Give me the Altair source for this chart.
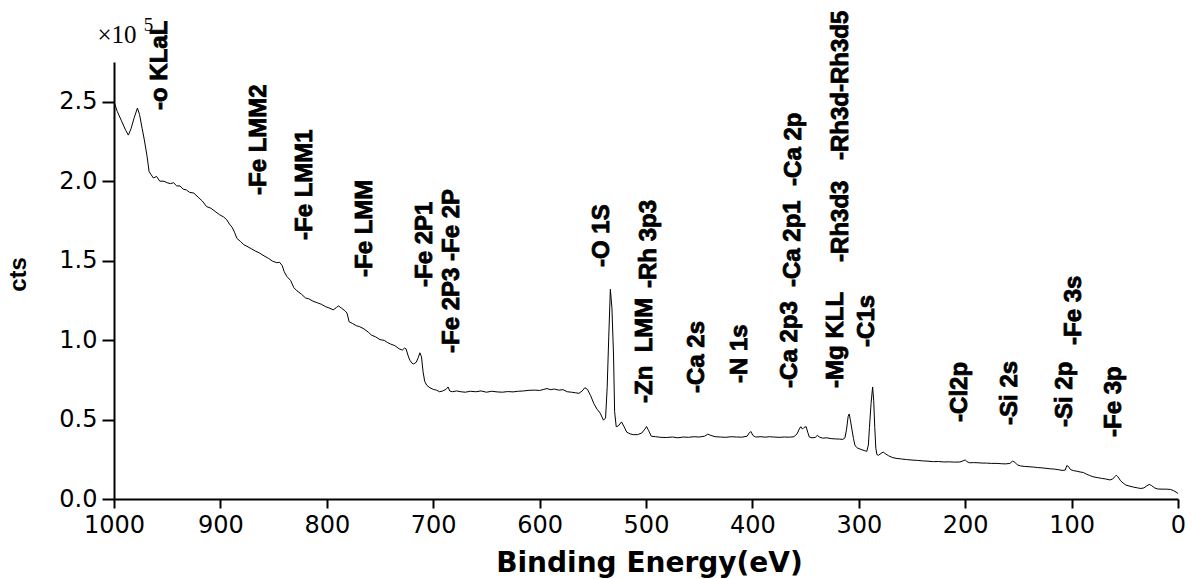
import altair as alt
import pandas as pd

# XPS survey spectrum: binding energy (eV) and counts (x 1e5)
energy = [
    1000, 997, 993, 989, 986.5, 984, 981, 978, 976, 973.5, 971.5, 969, 967, 965, 963, 960, 957, 953, 950,
    947, 944, 941, 938, 935, 932, 929, 925, 921, 917, 913, 909, 905, 901, 897, 894, 891.5, 889, 886.5,
    884.5, 881, 878, 875, 871, 867, 863, 859, 855, 851, 847, 844.5, 842, 840, 837.5, 834, 831, 828, 824,
    820, 817, 813, 809, 805, 801, 797, 794, 791, 789, 786, 783, 781, 779, 776, 772, 769, 765, 761, 758,
    754, 750, 746, 743, 740, 736, 732, 729, 727, 725.5, 723.5, 722, 720, 718.5, 716, 714, 712.5, 711,
    709.5, 708, 706, 703, 700, 697, 694, 691, 688, 686, 684.5, 682, 678, 674, 670, 665, 660, 655, 650,
    645, 640, 635, 630, 625, 620, 615, 610, 605, 600, 596, 593, 590, 586, 582, 578, 574, 570, 566, 563,
    560, 557.5, 555, 552, 549, 546, 543, 540, 538, 536.5, 535, 533.5, 532, 530.5, 529.5, 528, 526, 523,
    521, 518, 515, 512, 508, 504, 501, 499.5, 497.5, 495, 491, 486, 481, 475, 470, 465, 460, 455, 450,
    445, 442, 439, 435, 430, 425, 420, 415, 410, 405, 403, 401.5, 399.5, 397, 392, 388, 384, 380, 375,
    370, 365, 361, 358, 356, 354.5, 353, 351.5, 349.5, 348, 346.5, 344, 341, 339, 337, 334, 330, 326,
    322, 318, 315, 313, 311.5, 310, 309, 308, 306.5, 305, 303.5, 301, 298, 295, 292.5, 291, 290, 288.5,
    287, 286, 285, 284, 283, 281.5, 279, 277, 275, 272, 268, 264, 260, 255, 250, 245, 240, 235, 230,
    225, 220, 215, 210, 205, 202, 200, 198.5, 196, 192, 188, 184, 180, 175, 170, 166, 162, 158, 155.5,
    153.5, 151, 148, 144, 140, 136, 132, 128, 124, 120, 116, 112, 109, 106, 104.5, 103, 101, 98, 95,
    92, 89, 86, 83, 80, 76, 72, 68, 64, 61.5, 59.5, 58, 56.5, 54, 51.5, 49, 46, 42, 38, 35, 32, 29.5,
    27, 25, 22, 19, 15, 11, 7, 4, 1, 0,
]
counts = [
    2.50, 2.44, 2.38, 2.32, 2.29, 2.33, 2.40, 2.46, 2.42, 2.33, 2.26, 2.16, 2.06, 2.04, 2.02, 2.03, 2.00, 2.00, 1.99,
    1.985, 1.99, 1.97, 1.97, 1.95, 1.945, 1.93, 1.925, 1.90, 1.875, 1.84, 1.83, 1.81, 1.79, 1.775, 1.757, 1.73, 1.71, 1.675,
    1.64, 1.62, 1.60, 1.59, 1.575, 1.56, 1.547, 1.53, 1.515, 1.497, 1.487, 1.49, 1.47, 1.43, 1.40, 1.375, 1.33, 1.31, 1.29,
    1.265, 1.26, 1.245, 1.235, 1.225, 1.21, 1.20, 1.19, 1.205, 1.215, 1.20, 1.185, 1.17, 1.115, 1.105, 1.09, 1.084, 1.07, 1.05, 1.031,
    1.02, 1.003, 0.998, 0.985, 0.975, 0.965, 0.945, 0.937, 0.95, 0.945, 0.90, 0.874, 0.855, 0.85, 0.86, 0.89, 0.92, 0.895,
    0.80, 0.74, 0.715, 0.70, 0.69, 0.685, 0.675, 0.68, 0.69, 0.705, 0.68, 0.675, 0.68, 0.675, 0.672, 0.678, 0.675, 0.68, 0.672,
    0.678, 0.674, 0.672, 0.676, 0.674, 0.678, 0.68, 0.684, 0.685, 0.683, 0.69, 0.695, 0.688, 0.692, 0.685, 0.688, 0.675, 0.672, 0.668, 0.665,
    0.68, 0.70, 0.69, 0.65, 0.60, 0.565, 0.54, 0.496, 0.51, 0.70, 1.02, 1.32, 1.20, 0.90, 0.55, 0.455, 0.46, 0.485,
    0.46, 0.42, 0.41, 0.405, 0.405, 0.415, 0.44, 0.456, 0.43, 0.395, 0.392, 0.388, 0.387, 0.39, 0.385, 0.39, 0.388, 0.392, 0.39,
    0.395, 0.408, 0.40, 0.392, 0.39, 0.388, 0.392, 0.39, 0.389, 0.395, 0.415, 0.425, 0.40, 0.39, 0.392, 0.389, 0.392, 0.39, 0.388,
    0.39, 0.389, 0.392, 0.41, 0.44, 0.455, 0.44, 0.45, 0.455, 0.42, 0.39, 0.385, 0.387, 0.40, 0.39, 0.383, 0.385, 0.38,
    0.378, 0.377, 0.375, 0.385, 0.44, 0.52, 0.535, 0.50, 0.44, 0.38, 0.335, 0.32, 0.312, 0.305, 0.30, 0.34, 0.45, 0.60,
    0.705, 0.62, 0.45, 0.32, 0.28, 0.275, 0.288, 0.295, 0.285, 0.272, 0.26, 0.255, 0.252, 0.248, 0.245, 0.243, 0.24, 0.238, 0.235,
    0.236, 0.233, 0.234, 0.232, 0.233, 0.24, 0.246, 0.236, 0.228, 0.229, 0.228, 0.226, 0.226, 0.224, 0.224, 0.222, 0.221, 0.224, 0.238,
    0.232, 0.215, 0.208, 0.205, 0.203, 0.201, 0.198, 0.196, 0.193, 0.19, 0.188, 0.184, 0.18, 0.182, 0.21, 0.205, 0.185, 0.178, 0.175,
    0.17, 0.167, 0.156, 0.148, 0.14, 0.135, 0.13, 0.126, 0.12, 0.125, 0.14, 0.15, 0.14, 0.115, 0.10, 0.088, 0.082, 0.075, 0.07, 0.066, 0.07, 0.082,
    0.092, 0.085, 0.07, 0.063, 0.062, 0.062, 0.06, 0.052, 0.04, 0.035,
]

# Peak annotations: label text, energy of the label's baseline, level where the text starts
peak_labels = [
    "-o KLaL", "-Fe LMM2", "-Fe LMM1", "-Fe LMM", "-Fe 2P1", "-Fe 2P3 -Fe 2P", "-O 1S",
    "-Zn\u00a0 LMM", "-Rh 3p3", "-Ca 2s", "-N 1s", "-Ca 2p3", "-Ca 2p1", "-Ca 2p", "-Mg KLL",
    "-Rh3d3", "-Rh3d-Rh3d5", "-C1s", "-Cl2p", "-Si 2s", "-Si 2p", "-Fe 3s", "-Fe 3p",
]
peak_energy = [
    950.2, 857.1, 813.9, 757.5, 701.1, 675.8, 534.8,
    494.4, 490.6, 445.5, 405.1, 358.1, 355.3, 354.3, 314.8,
    310.2, 310.2, 285.7, 198.3, 151.3, 99.6, 91.1, 53.6,
]
peak_level = [
    2.448, 1.913, 1.630, 1.397, 1.334, 0.919, 1.460,
    0.604, 1.328, 0.667, 0.730, 0.699, 1.334, 1.970, 0.699,
    1.492, 2.133, 0.957, 0.485, 0.466, 0.453, 0.969, 0.390,
]

spec = pd.DataFrame({"energy": energy, "counts": counts, "idx": range(len(energy))})
peaks = pd.DataFrame({"label": peak_labels, "energy": peak_energy, "level": peak_level})
# Axis multiplier note (x10^5) written above the y axis
mult = pd.DataFrame({"t": ["\u00d710"], "energy": [1015.5], "level": [2.87]})
mult_exp = pd.DataFrame({"t": ["5"], "energy": [972.0], "level": [2.945]})

x_scale = alt.Scale(domain=[0, 1000], reverse=True, nice=False)
y_scale = alt.Scale(domain=[0, 2.75], nice=False, zero=True)

x_axis = alt.Axis(
    values=list(range(0, 1001, 100)),
    format="d",
    title="Binding Energy(eV)",
    titleFont="DejaVu Sans", titleFontSize=28, titleFontWeight="bold", titleColor="black",
    titleX=535, titleY=72, titleBaseline="alphabetic", titleAlign="center",
    labelFont="DejaVu Sans", labelFontSize=24, labelColor="black", labelPadding=5,
    labelOverlap=False, labelFlush=False,
    tickSize=9, tickWidth=2, tickColor="black",
    domainColor="black", domainWidth=2, grid=False,
)
y_axis = alt.Axis(
    values=[i * 0.25 for i in range(12)],
    labelExpr="datum.value % 0.5 == 0 ? format(datum.value, '.1f') : ''",
    title="cts",
    titleFont="Liberation Sans", titleFontSize=24, titleFontWeight="bold", titleColor="black",
    titleAngle=270, titleX=-89, titleY=212, titleBaseline="alphabetic", titleAlign="center",
    labelFont="DejaVu Sans", labelFontSize=24, labelColor="black", labelPadding=5,
    labelOverlap=False, labelFlush=False,
    tickSize={"condition": {"test": "datum.value % 0.5 == 0", "value": 12}, "value": 7},
    tickWidth=2, tickColor="black",
    domainColor="black", domainWidth=2, grid=False,
)

line = alt.Chart(spec).mark_line(color="black", strokeWidth=1).encode(
    x=alt.X("energy:Q", scale=x_scale, axis=x_axis),
    y=alt.Y("counts:Q", scale=y_scale, axis=y_axis),
    order="idx:Q",
)

labels = alt.Chart(peaks).mark_text(
    angle=270, align="left", baseline="alphabetic",
    font="Liberation Sans", fontSize=24, fontWeight="bold", color="black",
    stroke="black", strokeWidth=0.8,
).encode(
    x=alt.X("energy:Q", scale=x_scale),
    y=alt.Y("level:Q", scale=y_scale),
    text="label:N",
)

mult_text = alt.Chart(mult).mark_text(
    align="left", baseline="alphabetic", font="Liberation Serif", fontSize=25, color="black",
).encode(
    x=alt.X("energy:Q", scale=x_scale),
    y=alt.Y("level:Q", scale=y_scale),
    text="t:N",
)
mult_exp_text = alt.Chart(mult_exp).mark_text(
    align="left", baseline="alphabetic", font="Liberation Serif", fontSize=19, color="black",
).encode(
    x=alt.X("energy:Q", scale=x_scale),
    y=alt.Y("level:Q", scale=y_scale),
    text="t:N",
)

chart = alt.layer(line, mult_text, mult_exp_text, labels).properties(
    width=1064, height=437,
    autosize=alt.AutoSizeParams(type="none"),
    padding={"left": 114, "top": 62, "right": 14, "bottom": 80},
    background="white",
).configure_view(stroke=None)

chart.save("out.html", embed_options={"renderer": "svg", "actions": False})
